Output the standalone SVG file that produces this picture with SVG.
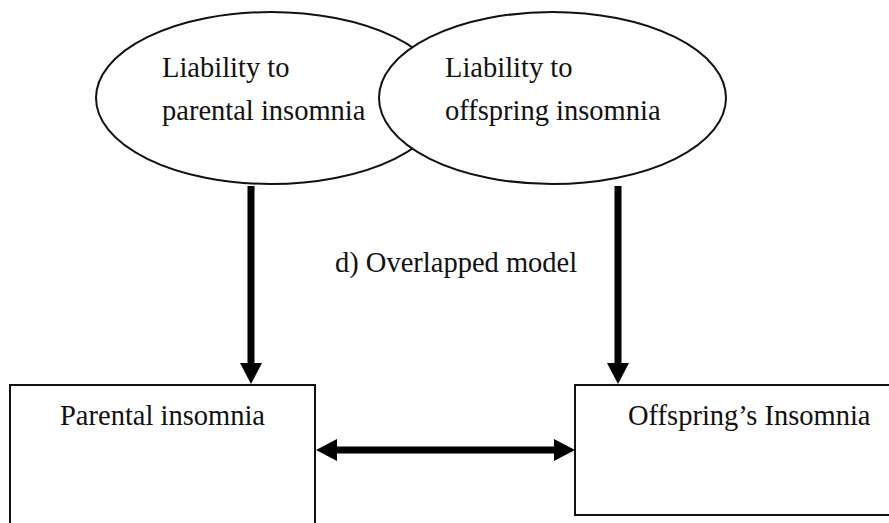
<svg xmlns="http://www.w3.org/2000/svg" width="889" height="523" viewBox="0 0 889 523">
<style>
  .shape { fill: #ffffff; stroke: #111111; stroke-width: 2; }
  .box { fill: #ffffff; stroke: #111111; stroke-width: 2; }
  .lbl { font-family: "Liberation Serif", "Times New Roman", serif; font-size: 28.5px; fill: #111111; }
  .conn { stroke: #000000; stroke-width: 7; fill: none; }
</style>
<defs>
  <marker id="ah" markerUnits="userSpaceOnUse" markerWidth="21" markerHeight="22" refX="4" refY="11" orient="auto-start-reverse" viewBox="0 0 21 22">
    <polygon points="0,0 21,11 0,22" fill="#000000"/>
  </marker>
</defs>
<rect width="889" height="523" fill="#ffffff"/>
<g id="node-liability-parental">
  <ellipse class="shape" cx="271" cy="98" rx="175" ry="86"/>
</g>
<g id="node-liability-offspring">
  <ellipse class="shape" cx="552.5" cy="98" rx="173.5" ry="86"/>
</g>
<g id="labels-ellipses">
  <text class="lbl" x="162" y="77">Liability to</text>
  <text class="lbl" x="162" y="120">parental insomnia</text>
  <text class="lbl" x="445" y="77">Liability to</text>
  <text class="lbl" x="445" y="120">offspring insomnia</text>
</g>
<g id="node-parental-insomnia">
  <rect class="box" x="10" y="385" width="305" height="150"/>
  <text class="lbl" x="60" y="425">Parental insomnia</text>
</g>
<g id="node-offspring-insomnia">
  <rect class="box" x="575" y="385" width="330" height="130"/>
  <text class="lbl" x="628" y="425">Offspring’s Insomnia</text>
</g>
<g id="caption">
  <text class="lbl" x="335" y="272">d) Overlapped model</text>
</g>
<g id="connectors">
  <line class="conn" x1="251" y1="186" x2="251" y2="367" marker-end="url(#ah)"/>
  <line class="conn" x1="618" y1="186" x2="618" y2="367" marker-end="url(#ah)"/>
  <line class="conn" x1="333" y1="450" x2="558" y2="450" marker-start="url(#ah)" marker-end="url(#ah)"/>
</g>
</svg>
